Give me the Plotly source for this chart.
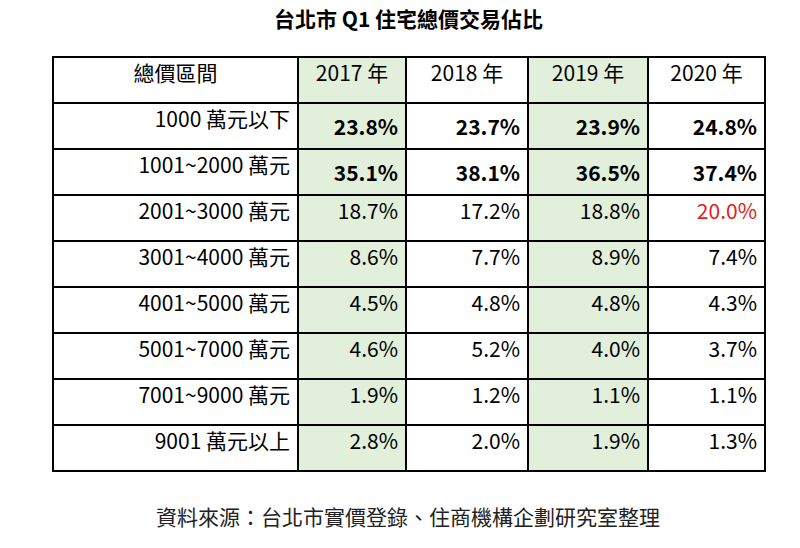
import plotly.graph_objects as go

title = "台北市 Q1 住宅總價交易佔比"
source = "資料來源：台北市實價登錄、住商機構企劃研究室整理"
headers = ["總價區間", "2017 年", "2018 年", "2019 年", "2020 年"]
ranges = ["1000 萬元以下", "1001~2000 萬元", "2001~3000 萬元", "3001~4000 萬元",
          "4001~5000 萬元", "5001~7000 萬元", "7001~9000 萬元", "9001 萬元以上"]
y2017 = [23.8, 35.1, 18.7, 8.6, 4.5, 4.6, 1.9, 2.8]
y2018 = [23.7, 38.1, 17.2, 7.7, 4.8, 5.2, 1.2, 2.0]
y2019 = [23.9, 36.5, 18.8, 8.9, 4.8, 4.0, 1.1, 1.9]
y2020 = [24.8, 37.4, 20.0, 7.4, 4.3, 3.7, 1.1, 1.3]
bold_rows = [0, 1]
red_cells = [(4, 2)]  # (column, row)

def fmt(vals):
    return [f"<b>{v:.1f}%</b>" if i in bold_rows else f"{v:.1f}%" for i, v in enumerate(vals)]

cols = [ranges, fmt(y2017), fmt(y2018), fmt(y2019), fmt(y2020)]
green = "#e2efda"
fills = [["white"] * 8, [green] * 8, ["white"] * 8, [green] * 8, ["white"] * 8]
colors = [["black"] * 8 for _ in cols]
for c, r in red_cells:
    colors[c][r] = "#e0201b"

font = "Noto Sans CJK TC"
fig = go.Figure(go.Table(
    columnwidth=[245, 108, 122, 120, 117],
    header=dict(values=headers, fill_color=["white", green, "white", green, "white"],
                line=dict(color="black", width=1.5), align="center",
                font=dict(family=font, size=21, color="black"), height=46),
    cells=dict(values=cols, fill_color=fills, line=dict(color="black", width=1.5),
               align="right", font=dict(family=font, size=21, color=colors), height=46),
    domain=dict(x=[45 / 800, 757 / 800], y=[0, 1 - 49 / 548]),
))
fig.add_annotation(text=f"<b>{title}</b>", x=0.5, y=1 - 35 / 548, xref="paper", yref="paper",
                   yanchor="middle", yshift=25, showarrow=False,
                   font=dict(family=font, size=21, color="black"))
fig.add_annotation(text=source, x=0.5, y=1 - 500 / 548, xref="paper", yref="paper",
                   yanchor="middle", yshift=-8, showarrow=False,
                   font=dict(family=font, size=21, color="#222"))
fig.update_layout(width=800, height=548, margin=dict(l=0, r=0, t=0, b=0),
                  paper_bgcolor="white")
fig.write_html("out.html")
